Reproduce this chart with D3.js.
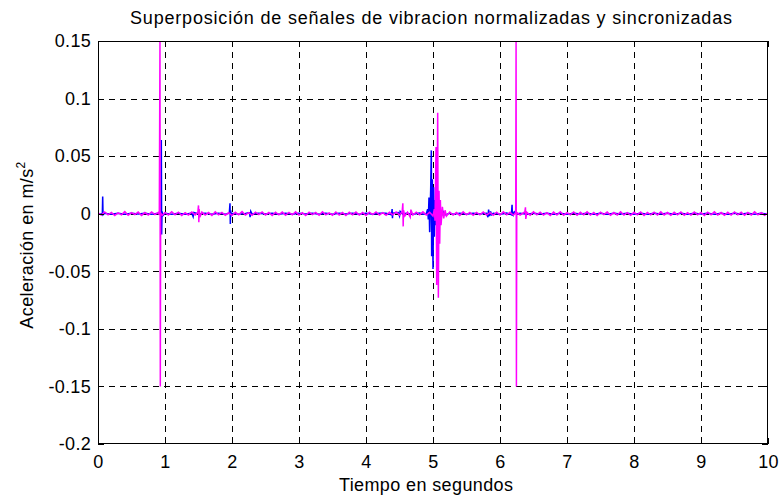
<!DOCTYPE html>
<html><head><meta charset="utf-8">
<script src="https://cdn.jsdelivr.net/npm/d3@7"></script>
<style>
body{margin:0;background:#fff}
svg{display:block}
text{font-family:"Liberation Sans",Arial,sans-serif;fill:#000}
</style>
</head><body>
<svg id="chart" width="781" height="499"></svg>
<script>
const titleText = "Superposición de señales de vibracion normalizadas y sincronizadas";
const xLabelText = "Tiempo en segundos";
const yLabelText = "Aceleración en m/s";
const xTicks = [0,1,2,3,4,5,6,7,8,9,10];
const xTickLabels = ["0","1","2","3","4","5","6","7","8","9","10"];
const yTicks = [-0.2,-0.15,-0.1,-0.05,0,0.05,0.1,0.15];
const yTickLabels = ["-0.2","-0.15","-0.1","-0.05","0","0.05","0.1","0.15"];

// [tiempo (s), aceleración (m/s^2)] — señal azul
const blueSeries = [
[0.00,0.0003],[0.05,-0.0004],[0.065,0.0002],[0.07,0.015],[0.075,-0.001],[0.10,0.0004],[0.20,-0.0005],[0.30,0.0003],
[0.40,-0.0004],[0.50,0.0005],[0.60,-0.0003],[0.70,0.0004],[0.80,-0.0005],[0.90,0.0003],[0.94,-0.0004],[0.945,0.064],
[0.95,-0.018],[0.955,0.002],[0.97,-0.0015],[1.00,0.0004],[1.10,-0.0005],[1.20,0.0003],[1.30,-0.0004],[1.40,0.0005],
[1.42,-0.0025],[1.43,0.001],[1.50,-0.0003],[1.60,0.0004],[1.70,-0.0005],[1.80,0.0003],[1.90,-0.0004],[1.96,0.0005],
[1.97,0.009],[1.975,-0.009],[1.98,0.003],[1.99,-0.002],[2.00,0.0004],[2.10,-0.0005],[2.20,0.0003],[2.26,0.001],
[2.27,-0.003],[2.28,0.002],[2.30,-0.0004],[2.40,0.0005],[2.50,-0.0003],[2.60,0.0004],[2.70,-0.0005],[2.80,0.0003],
[2.90,-0.0004],[3.00,0.0005],[3.10,-0.0003],[3.20,0.0004],[3.30,-0.0005],[3.40,0.0003],[3.50,-0.0004],[3.60,0.0005],
[3.70,-0.0003],[3.80,0.0004],[3.90,-0.0005],[4.00,0.0003],[4.10,-0.0004],[4.20,0.0005],[4.30,0.0003],[4.38,-0.001],
[4.39,0.004],[4.395,-0.004],[4.40,0.0005],[4.48,0.001],[4.50,-0.002],[4.51,0.002],[4.55,-0.0005],[4.60,0.0004],
[4.70,-0.0004],[4.80,0.0005],[4.85,-0.0004],[4.90,0.0],[4.92,0.004],[4.93,-0.005],[4.94,0.014],[4.95,-0.016],
[4.965,0.02],[4.975,0.055],[4.98,-0.037],[4.99,0.03],[5.00,-0.048],[5.01,0.023],[5.02,-0.02],[5.03,0.012],
[5.04,-0.01],[5.05,0.008],[5.06,-0.007],[5.07,0.005],[5.08,-0.004],[5.10,0.003],[5.12,-0.003],[5.15,0.002],
[5.18,-0.001],[5.25,0.0004],[5.30,-0.0005],[5.40,0.0003],[5.50,-0.0004],[5.60,0.0005],[5.70,-0.0003],[5.80,0.0004],
[5.82,-0.003],[5.83,0.0035],[5.84,-0.002],[5.86,0.002],[5.87,-0.001],[5.90,0.0003],[6.00,-0.0004],[6.10,0.0005],
[6.17,-0.0008],[6.18,0.0078],[6.185,-0.002],[6.19,0.002],[6.20,-0.001],[6.22,0.0015],[6.25,-0.0005],[6.30,0.0003],
[6.40,-0.0004],[6.50,0.0005],[6.60,-0.0003],[6.70,0.0004],[6.80,-0.0005],[6.90,0.0003],[7.00,-0.0004],[7.10,0.0005],
[7.20,-0.0003],[7.30,0.0004],[7.40,-0.0005],[7.50,0.0003],[7.60,-0.0004],[7.70,0.0005],[7.80,-0.0003],[7.90,0.0004],
[8.00,-0.0005],[8.10,0.0003],[8.20,-0.0004],[8.30,0.0005],[8.40,-0.0003],[8.50,0.0004],[8.60,-0.0005],[8.70,0.0003],
[8.80,-0.0004],[8.90,0.0005],[9.00,-0.0003],[9.10,0.0004],[9.20,-0.0005],[9.30,0.0003],[9.40,-0.0004],[9.50,0.0005],
[9.60,-0.0003],[9.70,0.0004],[9.80,-0.0005],[9.90,0.0003],[10.00,-0.0002]
];

// [tiempo (s), aceleración (m/s^2)] — señal magenta
const magentaSeries = [
[0.00,0.0008],[0.05,-0.0012],[0.10,0.0015],[0.15,-0.0009],[0.20,0.0011],[0.25,-0.0016],[0.30,0.0007],[0.35,-0.0010],
[0.40,0.0018],[0.45,-0.0013],[0.50,0.0009],[0.55,-0.0007],[0.60,0.0014],[0.65,-0.0015],[0.70,0.0010],[0.75,-0.0011],
[0.80,0.0016],[0.85,-0.0008],[0.90,0.0012],[0.915,-0.0010],[0.925,0.15],[0.93,-0.15],[0.935,0.0006],[0.96,-0.0014],
[1.00,0.0011],[1.05,-0.0012],[1.10,0.0017],[1.15,-0.0009],[1.20,0.0013],[1.25,-0.0016],[1.30,0.0008],[1.35,-0.0011],
[1.40,0.0015],[1.45,-0.0010],[1.49,0.0012],[1.50,0.0072],[1.505,-0.0075],[1.51,0.004],[1.52,-0.003],[1.55,0.0014],
[1.60,-0.0012],[1.65,0.0010],[1.70,-0.0015],[1.75,0.0016],[1.80,-0.0009],[1.85,0.0011],[1.90,-0.0013],[1.95,0.0008],
[2.00,-0.0016],[2.05,0.0012],[2.10,-0.0010],[2.15,0.0018],[2.20,-0.0012],[2.25,0.0009],[2.30,-0.0014],[2.35,0.0013],
[2.40,-0.0008],[2.45,0.0015],[2.50,-0.0011],[2.55,0.0010],[2.60,-0.0016],[2.65,0.0012],[2.70,-0.0009],[2.75,0.0014],
[2.80,-0.0013],[2.85,0.0011],[2.90,-0.0010],[2.95,0.0016],[3.00,-0.0012],[3.05,0.0009],[3.10,-0.0015],[3.15,0.0013],
[3.20,-0.0008],[3.25,0.0012],[3.30,-0.0014],[3.35,0.0017],[3.40,-0.0010],[3.45,0.0008],[3.50,-0.0013],[3.55,0.0015],
[3.60,-0.0011],[3.65,0.0010],[3.70,-0.0016],[3.75,0.0012],[3.80,-0.0009],[3.85,0.0014],[3.90,-0.0012],[3.95,0.0011],
[4.00,-0.0015],[4.05,0.0013],[4.10,-0.0008],[4.15,0.0016],[4.20,-0.0011],[4.25,0.0009],[4.30,-0.0014],[4.35,0.0012],
[4.40,-0.0010],[4.45,0.0015],[4.50,-0.0012],[4.54,0.002],[4.55,0.009],[4.555,-0.011],[4.56,0.003],[4.58,-0.002],
[4.62,0.0014],[4.66,-0.003],[4.67,0.0035],[4.70,-0.0012],[4.75,0.0013],[4.80,-0.0010],[4.85,0.0016],[4.90,-0.0011],
[4.95,0.0012],[5.00,-0.002],[5.02,0.004],[5.03,-0.006],[5.045,0.058],[5.055,-0.062],[5.07,0.0876],[5.08,-0.073],
[5.09,0.02],[5.10,-0.026],[5.11,0.012],[5.12,-0.01],[5.14,0.006],[5.16,-0.004],[5.18,0.003],[5.20,-0.002],
[5.25,0.0014],[5.30,-0.0012],[5.35,0.0010],[5.40,-0.0015],[5.45,0.0016],[5.50,-0.0009],[5.55,0.0012],[5.60,-0.0013],
[5.65,0.0011],[5.70,-0.0010],[5.75,0.0015],[5.80,-0.0012],[5.85,0.0009],[5.90,-0.0014],[5.95,0.0013],[6.00,-0.0011],
[6.05,0.0016],[6.10,-0.0010],[6.15,0.0012],[6.20,-0.0013],[6.235,0.0010],[6.24,0.15],[6.245,-0.15],[6.25,0.0012],
[6.30,-0.0011],[6.37,0.0015],[6.38,0.0055],[6.385,-0.0045],[6.40,0.0012],[6.45,-0.0014],[6.50,0.0016],[6.55,-0.0010],
[6.60,0.0013],[6.65,-0.0012],[6.70,0.0009],[6.75,-0.0015],[6.80,0.0014],[6.85,-0.0011],[6.90,0.0017],[6.95,-0.0013],
[7.00,0.0010],[7.05,-0.0009],[7.10,0.0015],[7.15,-0.0014],[7.20,0.0012],[7.25,-0.0010],[7.30,0.0016],[7.35,-0.0012],
[7.40,0.0011],[7.45,-0.0015],[7.50,0.0013],[7.55,-0.0008],[7.60,0.0014],[7.65,-0.0013],[7.70,0.0010],[7.75,-0.0011],
[7.80,0.0017],[7.85,-0.0012],[7.90,0.0009],[7.95,-0.0014],[8.00,0.0012],[8.05,-0.0010],[8.10,0.0015],[8.15,-0.0016],
[8.20,0.0011],[8.25,-0.0009],[8.30,0.0013],[8.35,-0.0012],[8.40,0.0016],[8.45,-0.0011],[8.50,0.0010],[8.55,-0.0014],
[8.60,0.0012],[8.65,-0.0010],[8.70,0.0015],[8.75,-0.0013],[8.80,0.0009],[8.85,-0.0012],[8.90,0.0014],[8.95,-0.0009],
[9.00,0.0011],[9.05,-0.0015],[9.10,0.0013],[9.15,-0.0010],[9.20,0.0016],[9.25,-0.0012],[9.30,0.0010],[9.35,-0.0013],
[9.40,0.0012],[9.45,-0.0011],[9.50,0.0015],[9.55,-0.0009],[9.60,0.0013],[9.65,-0.0014],[9.70,0.0011],[9.75,-0.0012],
[9.80,0.0016],[9.85,-0.0010],[9.90,0.0009],[9.95,-0.0013],[10.00,0.0008]
];

const svg = d3.select("#chart");
const m = {left:98, right:768, top:41, bottom:444};
const x = d3.scaleLinear().domain([0,10]).range([m.left, m.right]);
const y = d3.scaleLinear().domain([-0.2,0.15]).range([m.bottom, m.top]);

svg.append("rect").attr("width",781).attr("height",499).attr("fill","#fff");

// grid
const grid = svg.append("g").attr("stroke","#000").attr("stroke-width",1)
  .attr("stroke-dasharray","6,5").attr("shape-rendering","crispEdges");
grid.selectAll("line.gx").data(xTicks.slice(1,-1)).join("line")
  .attr("x1",d=>Math.round(x(d))+0.5).attr("x2",d=>Math.round(x(d))+0.5)
  .attr("y1",m.top).attr("y2",m.bottom);
grid.selectAll("line.gy").data(yTicks.slice(1,-1)).join("line")
  .attr("y1",d=>Math.round(y(d))+0.5).attr("y2",d=>Math.round(y(d))+0.5)
  .attr("x1",m.left).attr("x2",m.right);

// data
svg.append("clipPath").attr("id","clip").append("rect")
  .attr("x",m.left).attr("y",m.top).attr("width",m.right-m.left).attr("height",m.bottom-m.top);
const line = d3.line().x(d=>x(d[0])).y(d=>y(d[1]));
const plot = svg.append("g").attr("clip-path","url(#clip)");
plot.append("path").datum(blueSeries).attr("d",line)
  .attr("fill","none").attr("stroke","#0000ff").attr("stroke-width",1.5);
plot.append("path").datum(magentaSeries).attr("d",line)
  .attr("fill","none").attr("stroke","#ff00ff").attr("stroke-width",1.5);

// axes (ticks inside, MATLAB-like)
function styleAxis(g){
  g.select(".domain").remove();
  g.selectAll(".tick line").attr("stroke","#000").attr("shape-rendering","crispEdges");
  g.selectAll("text").attr("font-size",18).attr("letter-spacing","0.3px")
    .attr("font-family","'Liberation Sans',Arial,sans-serif");
}
svg.append("g").attr("transform",`translate(0,${m.bottom})`)
  .call(d3.axisBottom(x).tickValues(xTicks).tickFormat((d,i)=>xTickLabels[i]).tickSizeInner(-6).tickSizeOuter(0).tickPadding(11))
  .call(styleAxis);
svg.append("g").attr("transform",`translate(0,${m.top})`)
  .call(d3.axisTop(x).tickValues(xTicks).tickFormat("").tickSizeInner(-6).tickSizeOuter(0))
  .call(styleAxis);
svg.append("g").attr("transform",`translate(${m.left},0)`)
  .call(d3.axisLeft(y).tickValues(yTicks).tickFormat((d,i)=>yTickLabels[i]).tickSizeInner(-6).tickSizeOuter(0).tickPadding(7))
  .call(styleAxis);
svg.append("g").attr("transform",`translate(${m.right},0)`)
  .call(d3.axisRight(y).tickValues(yTicks).tickFormat("").tickSizeInner(-6).tickSizeOuter(0))
  .call(styleAxis);

// box
svg.append("rect").attr("x",m.left+0.5).attr("y",m.top+0.5)
  .attr("width",m.right-m.left-1).attr("height",m.bottom-m.top-1)
  .attr("fill","none").attr("stroke","#000").attr("stroke-width",1).attr("shape-rendering","crispEdges");

// title and labels
svg.append("text").attr("x",431).attr("y",24).attr("text-anchor","middle")
  .attr("font-size",18).attr("textLength",602).attr("lengthAdjust","spacing").text(titleText);
svg.append("text").attr("x",426).attr("y",491).attr("text-anchor","middle")
  .attr("font-size",18).attr("textLength",174).attr("lengthAdjust","spacing").text(xLabelText);
const yl = svg.append("text").attr("transform","translate(33,245) rotate(-90)")
  .attr("text-anchor","middle").attr("font-size",18).attr("letter-spacing","0.4px");
yl.append("tspan").text(yLabelText);
yl.append("tspan").attr("font-size",12).attr("dy",-8).text("2");
</script>
</body></html>
